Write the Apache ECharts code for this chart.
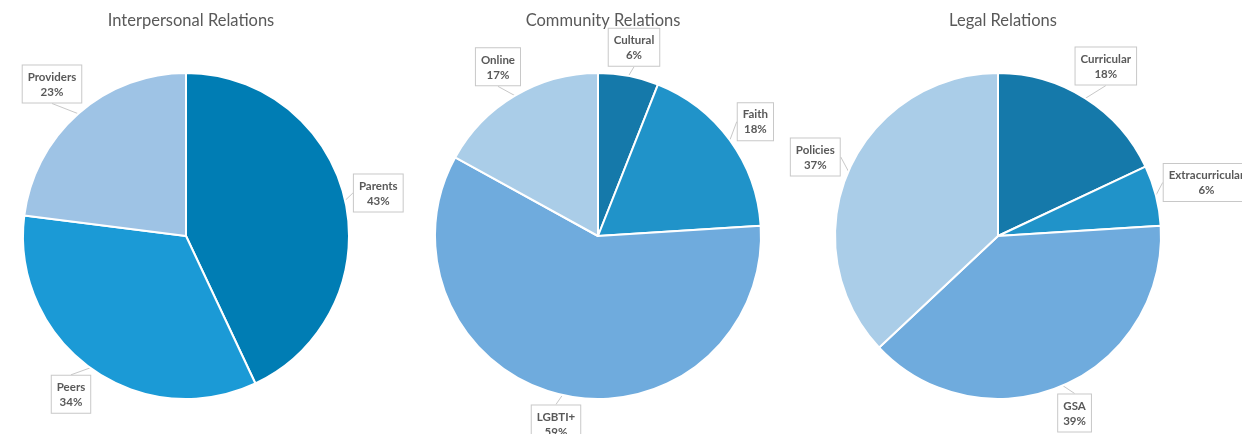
<!DOCTYPE html>
<html>
<head>
<meta charset="utf-8">
<script src="https://cdn.jsdelivr.net/npm/echarts@6/dist/echarts.min.js"></script>
<style>
  html, body { margin: 0; padding: 0; background: #ffffff; }
  #chart { width: 1242px; height: 434px; }
</style>
</head>
<body>
<div id="chart"></div>
<script>
// Chart titles
const chartTitles = ['Interpersonal Relations', 'Community Relations', 'Legal Relations'];

// Interpersonal relations (percent)
const interpersonalNames = ['Parents', 'Peers', 'Providers'];
const interpersonalValues = [43, 34, 23];
const interpersonalColors = ['#007db4', '#1b9ad6', '#9ec3e5'];

// Community relations (percent)
const communityNames = ['Cultural', 'Faith', 'LGBTI+', 'Online'];
const communityValues = [6, 18, 59, 17];
const communityColors = ['#1579aa', '#2093c9', '#6fabdd', '#aacde8'];

// Legal relations (percent)
const legalNames = ['Curricular', 'Extracurricular', 'GSA', 'Policies'];
const legalValues = [18, 6, 39, 37];
const legalColors = ['#1579aa', '#2093c9', '#6fabdd', '#aacde8'];

const allValues = [interpersonalValues, communityValues, legalValues];
const centersX = [186, 598, 998];
const centerY = 236;
const pieRadius = 163;
const calloutGap = 5;
const fontFamily = 'Lato, "Open Sans", sans-serif';

function buildData(names, values, colors) {
  return names.map((n, i) => ({ name: n, value: values[i], itemStyle: { color: colors[i] } }));
}

// Middle angle of a slice, measured clockwise from 12 o'clock
function midAngle(values, idx) {
  const total = values.reduce((a, b) => a + b, 0);
  let before = 0;
  for (let i = 0; i < idx; i++) before += values[i];
  return ((before + values[idx] / 2) / total) * Math.PI * 2;
}

// Callout boxes sit just outside the rim, centred on the slice's middle direction
function calloutLayout(params) {
  const s = params.seriesIndex;
  const a = midAngle(allValues[s], params.dataIndex);
  const ux = Math.sin(a), uy = -Math.cos(a);
  const w = params.labelRect.width, h = params.labelRect.height;
  const extent = Math.abs(ux) * w / 2 + Math.abs(uy) * h / 2;
  const d = pieRadius + calloutGap + extent;
  return {
    x: centersX[s] + ux * d,
    y: centerY + uy * d,
    align: 'center',
    verticalAlign: 'middle'
  };
}

function pieSeries(names, values, colors, idx) {
  return {
    type: 'pie',
    center: [centersX[idx], centerY],
    radius: pieRadius,
    startAngle: 90,
    clockwise: true,
    avoidLabelOverlap: false,
    animation: false,
    itemStyle: { borderColor: '#ffffff', borderWidth: 2 },
    label: {
      show: true,
      position: 'outside',
      formatter: '{t|{b}}\n{t|{c}%}',
      backgroundColor: '#ffffff',
      borderColor: '#c8c8c8',
      borderWidth: 1,
      padding: [4, 5, 3, 5],
      overflow: 'none',
      rich: {
        t: {
          align: 'center',
          color: '#595959',
          fontFamily: fontFamily,
          fontSize: 11.5,
          fontWeight: 'bold',
          lineHeight: 15
        }
      }
    },
    labelLine: {
      show: true,
      length: 6,
      length2: 0,
      lineStyle: { color: '#c8c8c8', width: 1 }
    },
    labelLayout: calloutLayout,
    emphasis: { disabled: true },
    data: buildData(names, values, colors)
  };
}

const chart = echarts.init(document.getElementById('chart'), null, { renderer: 'canvas' });
chart.setOption({
  backgroundColor: '#ffffff',
  title: chartTitles.map((t, i) => ({
    text: t,
    left: centersX[i],
    top: 7,
    textAlign: 'center',
    textStyle: { color: '#595959', fontFamily: fontFamily, fontSize: 16.5, fontWeight: 'normal' }
  })),
  series: [
    pieSeries(interpersonalNames, interpersonalValues, interpersonalColors, 0),
    pieSeries(communityNames, communityValues, communityColors, 1),
    pieSeries(legalNames, legalValues, legalColors, 2)
  ]
});
</script>
</body>
</html>
